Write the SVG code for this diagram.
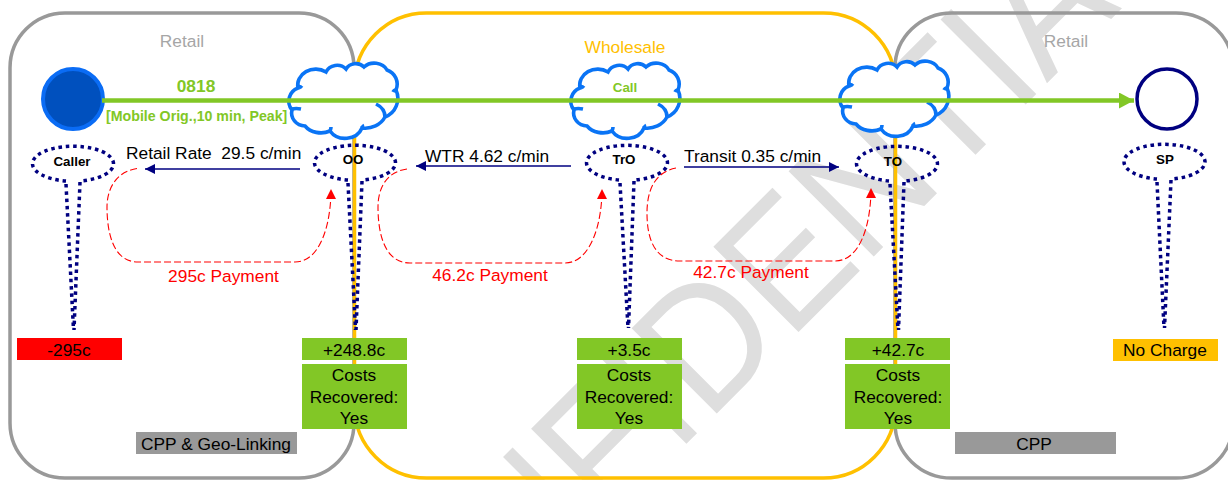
<svg xmlns="http://www.w3.org/2000/svg" width="1228" height="480" viewBox="0 0 1228 480">
<style>
text{font-family:"Liberation Sans",Arial,sans-serif;white-space:pre}
.t{font-size:17.33px;fill:#000}
.m{text-anchor:middle}
.b{font-weight:bold}
.n{font-size:13.33px;font-weight:bold;fill:#000;text-anchor:middle}
.pay{font-size:17.33px;fill:#ff0000;text-anchor:middle}
.zone{fill:none;stroke-width:3.5}
.dot{fill:none;stroke:#000080;stroke-width:3.5;stroke-dasharray:3.5 3.8}
.rate{stroke:#000080;stroke-width:1.3;fill:none;marker-end:url(#navy)}
.red{stroke:#ff0000;stroke-width:1.1;stroke-dasharray:7 3;fill:none;marker-end:url(#redh)}
.cloud{fill:#fff;stroke:#0a74f5;stroke-width:3.6}
.cl{fill:none;stroke:#0a74f5;stroke-width:3.6}
</style>
<defs>
<marker id="navy" markerUnits="userSpaceOnUse" markerWidth="11" markerHeight="10" refX="10" refY="5" orient="auto"><path d="M0 0L10 5L0 10z" fill="#000080"/></marker>
<marker id="redh" markerUnits="userSpaceOnUse" markerWidth="11" markerHeight="10" refX="10" refY="5" orient="auto"><path d="M0 0L10 5L0 10z" fill="#ff0000"/></marker>
<marker id="grn" markerUnits="userSpaceOnUse" markerWidth="16" markerHeight="16" refX="15" refY="8" orient="auto"><path d="M0 0L15 8L0 16z" fill="#82c726"/></marker>
<g id="cloudshape">
<path class="cloud" d="M298 88A18 16 0 0 1 326 72A12 11 0 0 1 346 69A11 10 0 0 1 364 67A14 12 0 0 1 387 70A15 15 0 0 1 396 90A20 20 0 0 1 385 117A22 20 0 0 1 362 128A18 16 0 0 1 330 131A19 15 0 0 1 305 126A14 13 0 0 1 292 110A14 14 0 0 1 298 88z"/>
<path class="cl" d="M298 88Q299 85 302 88M396 90Q394 90 393 92M376 104A18 15 0 0 1 385 117M362 128Q363 126 362 125M330 131Q331 129 331 127M292 109Q296 108 301 109"/>
</g>
</defs>
<rect width="1228" height="480" fill="#fff"/>
<text transform="translate(355.700 774.600) rotate(-45) scale(0.914 1)" fill="#dedede" style="font-size:175px">CONFIDENTIAL</text>

<g id="zones">
<rect class="zone" stroke="#999" x="10" y="13" width="344" height="465" rx="55" ry="55"/>
<rect class="zone" stroke="#999" x="895" y="13" width="338" height="465" rx="57" ry="55"/>
<rect class="zone" stroke="#ffc000" x="354.500" y="13" width="541" height="465" rx="72" ry="72"/>
<text class="t m" x="182" y="47" style="fill:#a6a6a6">Retail</text>
<text class="t m" x="625" y="53" style="fill:#ffc000">Wholesale</text>
<text class="t m" x="1066" y="47" style="fill:#a6a6a6">Retail</text>
</g>

<g id="clouds">
<use href="#cloudshape"/>
<use href="#cloudshape" x="282"/>
<use href="#cloudshape" transform="translate(551 -2)"/>
</g>

<g id="node-caller">
<circle cx="73" cy="99" r="30" fill="#0050be" stroke="#0a6cf5" stroke-width="4"/>
<path class="dot" d="M66 181A40.500 17.500 0 1 1 80 181"/>
<path class="dot" d="M66 184L73.500 330M80 182L74 330"/>
<text class="n" x="72" y="166">Caller</text>
</g>
<g id="node-oo">
<path class="dot" d="M348 180A40.500 17.500 0 1 1 362 180"/>
<path class="dot" d="M348 183L355.500 330M362 181L356 330"/>
<text class="n" x="353" y="164">OO</text>
</g>
<g id="node-tro">
<path class="dot" d="M619 180A40.500 17.500 0 1 1 635 180"/>
<path class="dot" d="M620 183L628 328M634 181L628.500 328"/>
<text class="n" x="624" y="164">TrO</text>
</g>
<g id="node-to">
<path class="dot" d="M889 181A40.500 17.500 0 1 1 905 181"/>
<path class="dot" d="M890 184L898 330M904 182L898.500 330"/>
<text class="n" x="893" y="166">TO</text>
</g>
<g id="node-sp">
<circle cx="1167" cy="99" r="30" fill="#fff" stroke="#000080" stroke-width="3.500"/>
<path class="dot" d="M1157 179A40.500 17.500 0 1 1 1172 179"/>
<path class="dot" d="M1157 182L1164 328M1171 180L1164.500 328"/>
<text class="n" x="1165" y="164">SP</text>
</g>

<g id="connectors">
<path d="M102 100.500H1134" stroke="#82c726" stroke-width="4.500" fill="none" marker-end="url(#grn)"/>
<path class="rate" d="M300 169H145"/>
<path class="rate" d="M571 166H416"/>
<path class="rate" d="M684 167H839"/>
<path class="red" d="M137 168.500C115 172 107 190 107 207C107 225 110 262 138 262H295C320 262 331 225 331 189"/>
<path class="red" d="M407 169C385 172 378 190 378 207C378 225 381 263 410 263H565C590 263 602 225 602 189"/>
<path class="red" d="M676 168C655 172 647 190 647 213C647 230 650 261 680 261H835C860 261 871 225 871 188"/>
</g>

<g id="labels">
<text class="t m b" x="196" y="92" style="fill:#82c726">0818</text>
<text class="b" x="106" y="121" style="font-size:14.2px;fill:#82c726">[Mobile Orig.,10 min, Peak]</text>
<text class="b m" x="625" y="92" style="font-size:13.33px;fill:#82c726">Call</text>
<text class="t" x="126" y="159">Retail Rate  29.5 c/min</text>
<text class="t" x="425" y="162">WTR 4.62 c/min</text>
<text class="t" x="684" y="162">Transit 0.35 c/min</text>
<text class="pay" x="223.500" y="282">295c Payment</text>
<text class="pay" x="490" y="281">46.2c Payment</text>
<text class="pay" x="751" y="278">42.7c Payment</text>
</g>

<g id="box-caller"><rect x="17" y="338" width="105" height="22" fill="#ff0000"/><text class="t m" x="69" y="356">-295c</text></g>
<g id="box-oo"><rect x="302" y="338" width="105" height="22" fill="#82c726"/><text class="t m" x="354" y="356">+248.8c</text>
<rect x="302" y="364" width="105" height="65" fill="#82c726"/><text class="t m" x="354" y="381">Costs</text><text class="t m" x="354" y="403">Recovered:</text><text class="t m" x="354" y="424">Yes</text></g>
<g id="box-tro"><rect x="577" y="338" width="105" height="22" fill="#82c726"/><text class="t m" x="629" y="356">+3.5c</text>
<rect x="577" y="364" width="105" height="65" fill="#82c726"/><text class="t m" x="629" y="381">Costs</text><text class="t m" x="629" y="403">Recovered:</text><text class="t m" x="629" y="424">Yes</text></g>
<g id="box-to"><rect x="845" y="338" width="105" height="22" fill="#82c726"/><text class="t m" x="898" y="356">+42.7c</text>
<rect x="845" y="364" width="105" height="65" fill="#82c726"/><text class="t m" x="898" y="381">Costs</text><text class="t m" x="898" y="403">Recovered:</text><text class="t m" x="898" y="424">Yes</text></g>
<g id="box-sp"><rect x="1113" y="339" width="105" height="22" fill="#ffc000"/><text class="t m" x="1165" y="356">No Charge</text></g>
<g id="box-geo"><rect x="136" y="432" width="161" height="22" fill="#999"/><text class="t m" x="216" y="450">CPP &amp; Geo-Linking</text></g>
<g id="box-cpp"><rect x="955" y="432" width="161" height="22" fill="#999"/><text class="t m" x="1034" y="450">CPP</text></g>
</svg>
